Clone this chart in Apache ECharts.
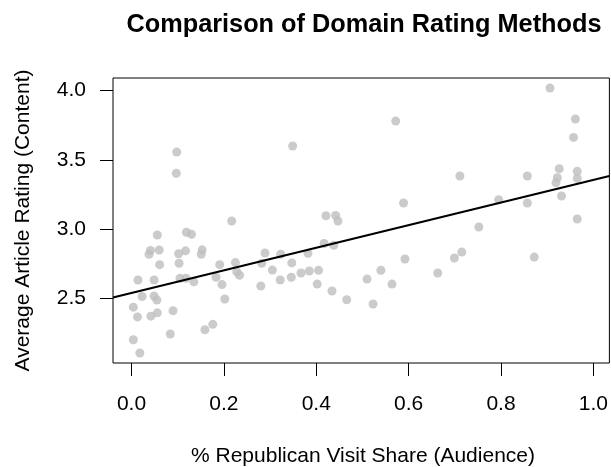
<!DOCTYPE html>
<html>
<head>
<meta charset="utf-8">
<script src="https://cdn.jsdelivr.net/npm/echarts@6/dist/echarts.min.js"></script>
<style>
html,body{margin:0;padding:0;background:#fff;}
#chart{width:611px;height:467px;}
</style>
</head>
<body>
<div id="chart"></div>
<script>
// Data
var republicanShare = [
  0.098, 0.097, 0.572, 0.349, 0.589, 0.421, 0.442, 0.447, 0.906, 0.961,
  0.957, 0.711, 0.857, 0.926, 0.922, 0.919, 0.965, 0.965, 0.795, 0.857,
  0.931, 0.965, 0.752, 0.715, 0.699, 0.663, 0.872, 0.417, 0.438, 0.289,
  0.323, 0.382, 0.282, 0.347, 0.305, 0.367, 0.385, 0.405, 0.280, 0.322,
  0.346, 0.402, 0.434, 0.466, 0.523, 0.510, 0.540, 0.564, 0.592, 0.217,
  0.056, 0.119, 0.130, 0.041, 0.038, 0.060, 0.102, 0.117, 0.153, 0.151,
  0.061, 0.103, 0.191, 0.225, 0.014, 0.049, 0.105, 0.118, 0.135, 0.183,
  0.196, 0.228, 0.234, 0.023, 0.049, 0.055, 0.004, 0.202, 0.013, 0.042,
  0.056, 0.090, 0.084, 0.159, 0.176, 0.004, 0.018
];
var articleRating = [
  3.556, 3.403, 3.780, 3.600, 3.188, 3.096, 3.098, 3.058, 4.018, 3.795,
  3.662, 3.383, 3.383, 3.436, 3.371, 3.335, 3.417, 3.366, 3.212, 3.188,
  3.239, 3.073, 3.015, 2.834, 2.791, 2.683, 2.798, 2.896, 2.883, 2.827,
  2.818, 2.825, 2.753, 2.756, 2.704, 2.683, 2.697, 2.702, 2.589, 2.632,
  2.652, 2.603, 2.553, 2.490, 2.459, 2.639, 2.703, 2.603, 2.784, 3.058,
  2.957, 2.977, 2.962, 2.845, 2.818, 2.849, 2.822, 2.843, 2.850, 2.818,
  2.743, 2.753, 2.743, 2.758, 2.632, 2.632, 2.645, 2.645, 2.619, 2.652,
  2.599, 2.691, 2.667, 2.513, 2.517, 2.488, 2.436, 2.495, 2.366, 2.371,
  2.395, 2.410, 2.242, 2.273, 2.312, 2.201, 2.105
];
var fitIntercept = 2.539;
var fitSlope = 0.816;
var xTicks = [0.0, 0.2, 0.4, 0.6, 0.8, 1.0];
var yTicks = [2.5, 3.0, 3.5, 4.0];

var titleText = 'Comparison of Domain Rating Methods';
var xTitle = '% Republican Visit Share (Audience)';
var yTitle = 'Average Article Rating (Content)';

var X_MIN = -0.04, X_MAX = 1.0346, Y_MIN = 2.033, Y_MAX = 4.091;

var points = republicanShare.map(function (x, i) { return [x, articleRating[i]]; });
var fitLine = [
  [X_MIN, fitIntercept + fitSlope * X_MIN],
  [X_MAX, fitIntercept + fitSlope * X_MAX]
];

var FONT = '"Liberation Sans", Arial, Helvetica, sans-serif';
var chart = echarts.init(document.getElementById('chart'), null, {renderer: 'canvas'});
chart.setOption({
  animation: false,
  backgroundColor: '#ffffff',
  grid: {
    left: 113, right: 1, top: 78, bottom: 104,
    show: true, borderColor: '#000', borderWidth: 1, backgroundColor: 'transparent'
  },
  xAxis: {
    type: 'value', min: X_MIN, max: X_MAX,
    splitLine: {show: false},
    axisLine: {show: false, onZero: false},
    axisTick: {show: true, inside: false, length: 13, customValues: xTicks,
               lineStyle: {color: '#000', width: 1}},
    axisLabel: {show: true, customValues: xTicks, margin: 31, color: '#000',
                fontSize: 21, fontFamily: FONT,
                formatter: function (v) { return v.toFixed(1); }}
  },
  yAxis: {
    type: 'value', min: Y_MIN, max: Y_MAX,
    splitLine: {show: false},
    axisLine: {show: false, onZero: false},
    axisTick: {show: true, inside: false, length: 13, customValues: yTicks,
               lineStyle: {color: '#000', width: 1}},
    axisLabel: {show: true, customValues: yTicks, margin: 27, color: '#000',
                fontSize: 21, fontFamily: FONT,
                formatter: function (v) { return v.toFixed(1); }}
  },
  graphic: [
    {type: 'text', x: 364, y: 25,
     style: {text: titleText, fontSize: 25.3, fontWeight: 'bold', fontFamily: FONT,
             fill: '#000', textAlign: 'center', textVerticalAlign: 'middle'}},
    {type: 'text', x: 363, y: 456,
     style: {text: xTitle, fontSize: 21, fontFamily: FONT,
             fill: '#000', textAlign: 'center', textVerticalAlign: 'middle'}},
    {type: 'text', x: 23, y: 220.5, rotation: Math.PI / 2,
     style: {text: yTitle, fontSize: 21, fontFamily: FONT,
             fill: '#000', textAlign: 'center', textVerticalAlign: 'middle'}}
  ],
  series: [
    {type: 'scatter', data: points, symbol: 'circle', symbolSize: 9,
     itemStyle: {color: '#bebebe'}, z: 2},
    {type: 'line', data: fitLine, showSymbol: false, symbol: 'none', clip: true,
     lineStyle: {color: '#000', width: 2.2}, z: 3}
  ]
});
</script>
</body>
</html>
